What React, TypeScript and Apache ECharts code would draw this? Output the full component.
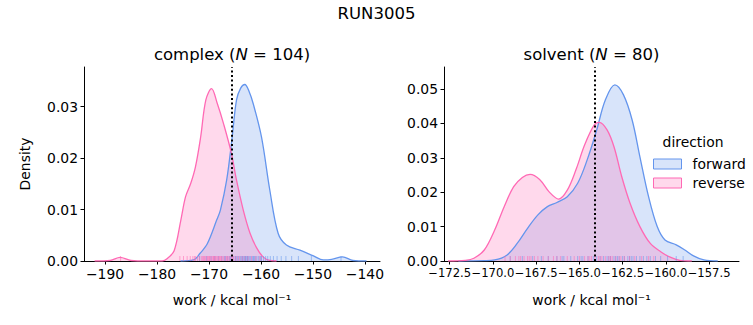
import React, { useEffect, useRef } from "react";
import * as echarts from "echarts";

// KDE curves: [work, density]
const complexForward: number[][] = [
  [-175.5, 0], [-173, 0.0002], [-171.7, 0.0015], [-170.3, 0.0034], [-168.5, 0.008], [-167.8, 0.0099],
  [-166.6, 0.0157], [-165.6, 0.0235], [-164.7, 0.0313], [-163.9, 0.0336], [-163.1, 0.0343], [-162.3, 0.033],
  [-161.5, 0.0306], [-159.9, 0.0241], [-158.3, 0.0138], [-156.7, 0.0054], [-155.1, 0.0031], [-152.5, 0.0021],
  [-149.9, 0.001], [-148, 0.0002], [-146.4, 0.0003], [-144.3, 0.0008], [-142.3, 0.0001], [-139.7, 0],
];
const complexReverse: number[][] = [
  [-192, 0], [-189, 0.0001], [-187.1, 0.0007], [-185, 0.0001], [-182, 0], [-179, 0], [-178, 0.0005],
  [-176.7, 0.002], [-175.4, 0.008], [-174.5, 0.0125], [-173.5, 0.0151], [-172.6, 0.0183], [-171.6, 0.0241],
  [-170.6, 0.0313], [-169.5, 0.0335], [-168.4, 0.0306], [-167.2, 0.0267], [-165.7, 0.021], [-164.7, 0.0157],
  [-163.4, 0.0099], [-162.1, 0.0054], [-160.8, 0.0025], [-159.6, 0.0008], [-158.3, 0.0001], [-157, 0],
];
const solventForward: number[][] = [
  [-172, 0], [-170.5, 0.0001], [-169.9, 0.0003], [-169.2, 0.0017], [-168.6, 0.0051], [-168.0, 0.0095],
  [-167.4, 0.0134], [-166.85, 0.0158], [-166.3, 0.017], [-165.7, 0.0187], [-165.1, 0.0226], [-164.55, 0.0294],
  [-164.0, 0.0381], [-163.5, 0.0468], [-162.95, 0.0512], [-162.45, 0.0483], [-161.95, 0.041], [-161.5, 0.0303],
  [-161.0, 0.0187], [-160.5, 0.01], [-160.05, 0.0061], [-159.4, 0.0047], [-158.9, 0.0032], [-158.4, 0.0015],
  [-157.8, 0.0003], [-157.0, 0],
];
const solventReverse: number[][] = [
  [-172.6, 0], [-171.6, 0.0002], [-171.1, 0.0008], [-170.5, 0.0032], [-169.9, 0.009], [-169.35, 0.0158],
  [-168.8, 0.0216], [-168.3, 0.0243], [-167.85, 0.0252], [-167.3, 0.0237], [-166.75, 0.0201], [-166.2, 0.018],
  [-165.7, 0.0206], [-165.2, 0.0265], [-164.7, 0.0337], [-164.15, 0.0395], [-163.85, 0.0403], [-163.4, 0.0381],
  [-163.0, 0.0332], [-162.55, 0.0245], [-162.07, 0.0168], [-161.5, 0.01], [-160.9, 0.0051], [-160.3, 0.0027],
  [-159.75, 0.0011], [-159.2, 0.0002], [-158.5, 0],
];

// Rug positions (individual work values)
const complexForwardRug = [-171.8, -170.5, -169.6, -168.9, -168.2, -167.5, -167.0, -166.4, -166.0, -165.6, -165.2,
  -164.9, -164.6, -164.3, -164.0, -163.8, -163.5, -163.3, -163.1, -162.9, -162.7, -162.5, -162.3, -162.1, -161.9,
  -161.6, -161.4, -161.1, -160.8, -160.5, -160.2, -159.9, -159.5, -159.1, -158.7, -158.2, -157.6, -156.9, -156.1,
  -155.2, -154.1, -152.8, -150.3, -144.6, -163.6, -162.6, -164.8, -161.3, -165.9, -160.0, -163.0, -166.8];
const complexReverseRug = [-187.0, -175.6, -174.9, -174.2, -173.6, -173.1, -172.6, -172.2, -171.8, -171.4, -171.0,
  -170.7, -170.4, -170.1, -169.9, -169.6, -169.4, -169.2, -169.0, -168.8, -168.5, -168.3, -168.0, -167.8, -167.5,
  -167.2, -166.9, -166.6, -166.3, -166.0, -165.7, -165.3, -164.9, -164.5, -164.1, -163.6, -163.1, -162.5, -161.8,
  -161.0, -160.2, -170.9, -169.8, -168.7, -167.6, -166.5, -165.5, -172.8, -171.2, -170.3, -169.1, -168.1];
const solventForwardRug = [-169.0, -168.3, -167.7, -167.2, -166.8, -166.3, -165.9, -165.5, -165.1, -164.8, -164.5,
  -164.2, -164.0, -163.8, -163.6, -163.4, -163.2, -163.0, -162.9, -162.7, -162.5, -162.4, -162.2, -162.0, -161.9,
  -161.7, -161.5, -161.3, -161.1, -160.9, -160.6, -160.3, -159.9, -159.4, -159.0, -163.3, -162.8, -162.1, -164.9, -166.0];
const solventReverseRug = [-169.3, -169.0, -168.7, -168.4, -168.2, -168.0, -167.8, -167.6, -167.4, -167.1, -166.8,
  -166.5, -166.1, -165.7, -165.3, -165.0, -164.7, -164.5, -164.3, -164.1, -163.9, -163.7, -163.5, -163.3, -163.1,
  -162.9, -162.7, -162.4, -162.1, -161.8, -161.4, -161.0, -160.7, -168.5, -167.9, -164.4, -163.8, -163.2, -162.6, -166.3];

// Reference (dotted) lines
const complexRefLine = -165.6;
const solventRefLine = -164.1;

// Tick values
const complexXTicks = [-190, -180, -170, -160, -150, -140];
const complexYTicks = [0, 0.01, 0.02, 0.03];
const solventXTicks = [-172.5, -170.0, -167.5, -165.0, -162.5, -160.0, -157.5];
const solventYTicks = [0, 0.01, 0.02, 0.03, 0.04, 0.05];

const FONT = "DejaVu Sans";
const BLUE = "#6495ED";
const PINK = "#FF69B4";
const BLUE_FILL = "rgba(100,149,237,0.25)";
const PINK_FILL = "rgba(255,105,180,0.25)";

const minus = (s: string) => s.replace("-", "\u2212");

export default function App() {
  const ref = useRef<HTMLDivElement>(null);
  useEffect(() => {
    if (!ref.current) return;
    const chart = echarts.init(ref.current, null, { renderer: "svg" });

    const xAxisBase = (idx: number, min: number, max: number, ticks: number[], digits: number, fs: number) => ({
      type: "value",
      gridIndex: idx,
      min,
      max,
      name: "work / kcal mol\u207B\u00B9",
      nameLocation: "middle",
      nameGap: 32,
      nameTextStyle: { fontFamily: FONT, fontSize: 13.9, color: "#000" },
      axisLine: { show: true, lineStyle: { color: "#000", width: 1 } },
      axisTick: { show: true, inside: false, length: 3.5, customValues: ticks, lineStyle: { color: "#000", width: 1 } },
      axisLabel: {
        show: true, margin: 6, color: "#000", fontFamily: FONT, fontSize: fs,
        customValues: ticks,
        interval: 0,
        showMinLabel: true,
        showMaxLabel: true,
        hideOverlap: false,
        formatter: (v: number) => minus(v.toFixed(digits)),
      },
      splitLine: { show: false },
    });
    const yAxisBase = (idx: number, max: number, ticks: number[], name: string) => ({
      type: "value",
      gridIndex: idx,
      min: 0,
      max,
      name,
      nameLocation: "middle",
      nameGap: 52,
      nameTextStyle: { fontFamily: FONT, fontSize: 13.9, color: "#000" },
      axisLine: { show: true, lineStyle: { color: "#000", width: 1 } },
      axisTick: { show: true, inside: false, length: 3.5, customValues: ticks, lineStyle: { color: "#000", width: 1 } },
      axisLabel: {
        show: true, margin: 6, color: "#000", fontFamily: FONT, fontSize: 13.9,
        customValues: ticks,
        interval: 0,
        showMinLabel: true,
        showMaxLabel: true,
        formatter: (v: number) => v.toFixed(2),
      },
      splitLine: { show: false },
    });

    const kde = (name: string, data: number[][], idx: number, color: string, fill: string, refX?: number) => ({
      type: "line",
      name,
      xAxisIndex: idx,
      yAxisIndex: idx,
      data,
      smooth: 0.35,
      showSymbol: false,
      symbol: "none",
      lineStyle: { color, width: 1.3 },
      itemStyle: { color: fill, borderColor: color, borderWidth: 1 },
      areaStyle: { color: fill, opacity: 1 },
      z: 2,
      markLine: refX === undefined ? undefined : {
        silent: true,
        symbol: ["none", "none"],
        label: { show: false },
        lineStyle: { color: "#000", width: 2, type: [2, 2.6], opacity: 1 },
        data: [{ xAxis: refX }],
        z: 10,
      },
    });
    const rug = (name: string, vals: number[], idx: number, color: string) => ({
      type: "scatter",
      name,
      xAxisIndex: idx,
      yAxisIndex: idx,
      data: vals.map((v) => [v, 0]),
      symbol: "rect",
      symbolSize: [1, 5],
      symbolOffset: [0, -2.5],
      itemStyle: { color, opacity: 0.55 },
      silent: true,
      z: 3,
    });

    const option: any = {
      animation: false,
      backgroundColor: "#fff",
      textStyle: { fontFamily: FONT },
      grid: [
        { left: 84, top: 67, width: 296, height: 194 },
        { left: 444, top: 67, width: 295, height: 194 },
      ],
      xAxis: [
        xAxisBase(0, -194.04, -137.1, complexXTicks, 0, 13.9),
        xAxisBase(1, -172.83, -155.77, solventXTicks, 1, 11.6),
      ],
      yAxis: [
        yAxisBase(0, 0.0377, complexYTicks, "Density"),
        yAxisBase(1, 0.0564, solventYTicks, ""),
      ],
      legend: {
        show: true,
        orient: "vertical",
        left: 648,
        top: 152,
        itemWidth: 28,
        itemHeight: 10,
        itemGap: 5,
        icon: "rect",
        textStyle: { fontFamily: FONT, fontSize: 13.9, color: "#000", padding: [0, 0, 0, 6] },
        data: [
          { name: "forward", itemStyle: { color: BLUE_FILL, borderColor: BLUE, borderWidth: 1 } },
          { name: "reverse", itemStyle: { color: PINK_FILL, borderColor: PINK, borderWidth: 1 } },
        ],
        selectedMode: false,
      },
      graphic: [
        { type: "text", x: 376.5, y: 13, style: { text: "RUN3005", fontFamily: FONT, fontSize: 16.5, fill: "#000", align: "center", verticalAlign: "middle" } },
        {
          type: "text", x: 232, y: 54,
          style: {
            text: "complex ({i|N} = 104)", fontFamily: FONT, fontSize: 16.5, fill: "#000", align: "center", verticalAlign: "middle",
            rich: { i: { fontFamily: FONT, fontSize: 16.5, fontStyle: "italic", fill: "#000" } },
          },
        },
        {
          type: "text", x: 591.5, y: 54,
          style: {
            text: "solvent ({i|N} = 80)", fontFamily: FONT, fontSize: 16.5, fill: "#000", align: "center", verticalAlign: "middle",
            rich: { i: { fontFamily: FONT, fontSize: 16.5, fontStyle: "italic", fill: "#000" } },
          },
        },
        { type: "text", x: 693, y: 142, style: { text: "direction", fontFamily: FONT, fontSize: 13.9, fill: "#000", align: "center", verticalAlign: "middle" } },
      ],
      series: [
        kde("forward", complexForward, 0, BLUE, BLUE_FILL),
        kde("reverse", complexReverse, 0, PINK, PINK_FILL, complexRefLine),
        rug("forward", complexForwardRug, 0, BLUE),
        rug("reverse", complexReverseRug, 0, PINK),
        kde("forward", solventForward, 1, BLUE, BLUE_FILL),
        kde("reverse", solventReverse, 1, PINK, PINK_FILL, solventRefLine),
        rug("forward", solventForwardRug, 1, BLUE),
        rug("reverse", solventReverseRug, 1, PINK),
      ],
    };
    chart.setOption(option);
    return () => chart.dispose();
  }, []);
  return <div ref={ref} style={{ position: "fixed", left: 0, top: 0, width: 753, height: 325, background: "#fff" }} />;
}
